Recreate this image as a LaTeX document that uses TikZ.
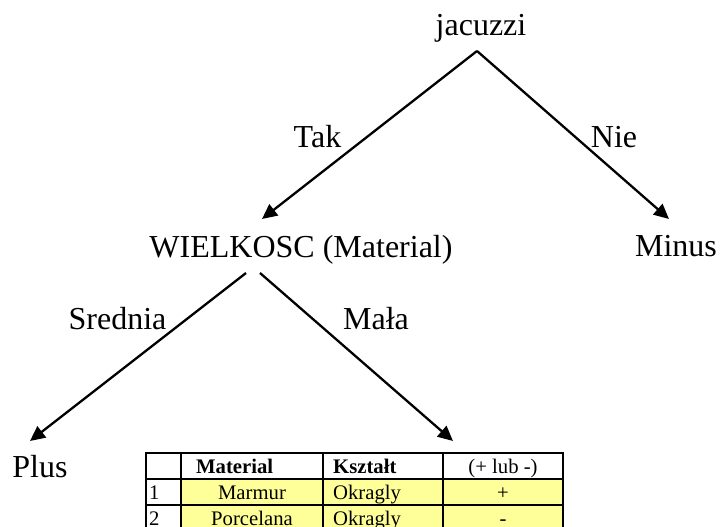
\documentclass[tikz,border=0pt]{standalone}
\usepackage{fontspec}
\setmainfont{Liberation Serif}
\usetikzlibrary{arrows.meta}
\definecolor{cellyellow}{HTML}{FFFF99}
\tikzset{
  lbl/.style={anchor=base, inner sep=0pt, font=\fontsize{32}{38}\selectfont},
  edge/.style={line width=2.3pt, -{Triangle[length=15pt,width=14pt]}},
  tcell/.style={anchor=base, inner sep=0pt, font=\fontsize{20.7}{24}\selectfont},
  tbold/.style={tcell, font=\fontsize{20.7}{24}\selectfont\bfseries},
  gridline/.style={line width=2pt, line cap=rect}
}
\begin{document}
\begin{tikzpicture}[x=1pt,y=-1pt]
\useasboundingbox (0,0) rectangle (720,527);
\clip (0,0) rectangle (720,527);
\fill[white] (0,0) rectangle (720,527);

% tree labels
\node[lbl] (jac) at (481,36) {jacuzzi};
\node[lbl] (tak) at (317.5,147) {Tak};
\node[lbl] (nie) at (614,147) {Nie};
\node[lbl] (wiel) at (301,257) {WIELKOSC (Material)};
\node[lbl] (minus) at (676,256) {Minus};
\node[lbl] (sred) at (117.5,329) {Srednia};
\node[lbl] (mala) at (376,329) {Mała};
\node[lbl] (plus) at (40,477) {Plus};

% connector end points
\coordinate (apex) at (477,51);
\coordinate (tipTak) at (262,219);
\coordinate (tipNie) at (669,219);
\coordinate (wL) at (246,273);
\coordinate (wR) at (260,273);
\coordinate (tipPlus) at (30,441);
\coordinate (tipTab) at (453,441);

\draw[edge] (apex) -- (tipTak);
\draw[edge] (apex) -- (tipNie);
\draw[edge] (wL) -- (tipPlus);
\draw[edge] (wR) -- (tipTab);

% table
\fill[cellyellow] (181,479) rectangle (563,531);
\draw[gridline] (146,453) rectangle (563,531);
\draw[gridline] (146,479) -- (563,479);
\draw[gridline] (146,505) -- (563,505);
\draw[gridline] (181,453) -- (181,531);
\draw[gridline] (323,453) -- (323,531);
\draw[gridline] (443,453) -- (443,531);

\node[tbold, anchor=base west] (hMat) at (196,473) {Material};
\node[tbold, anchor=base west] (hKsz) at (333,473) {Kształt};
\node[tcell] (hPM) at (503,473) {(+ lub -)};

\node[tcell, anchor=base west] (n1) at (149,499.5) {1};
\node[tcell] (m1) at (252,499.5) {Marmur};
\node[tcell, anchor=base west] (k1) at (333,499.5) {Okragly};
\node[tcell] (s1) at (503,499.5) {+};

\node[tcell, anchor=base west] (n2) at (149,525.5) {2};
\node[tcell] (m2) at (252,525.5) {Porcelana};
\node[tcell, anchor=base west] (k2) at (333,525.5) {Okragly};
\node[tcell] (s2) at (503,525.5) {-};
\end{tikzpicture}
\end{document}
